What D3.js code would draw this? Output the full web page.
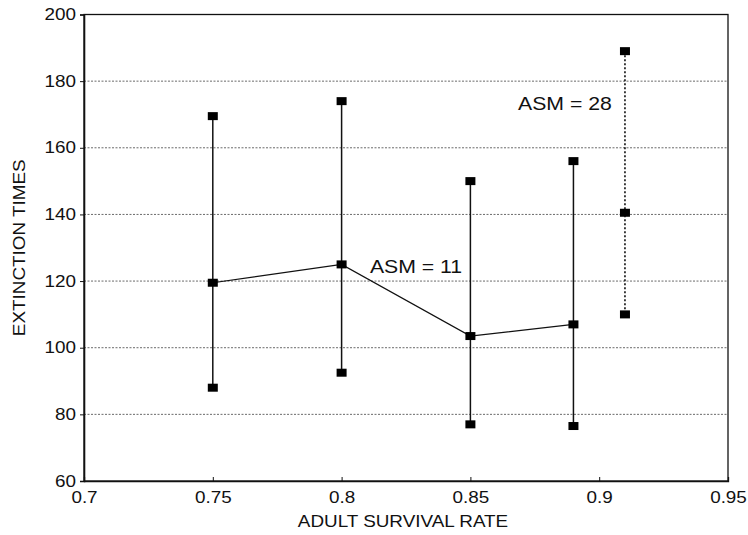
<!DOCTYPE html>
<html><head><meta charset="utf-8">
<script src="https://cdn.jsdelivr.net/npm/d3@7"></script>
<style>
body{margin:0;background:#fff;}
text{font-family:"Liberation Sans",Arial,Helvetica,sans-serif;fill:#111;}
</style></head>
<body>
<svg id="chart" width="748" height="535"></svg>
<script>
// Data
const xTicks = [0.7, 0.75, 0.8, 0.85, 0.9, 0.95];
const yTicks = [60, 80, 100, 120, 140, 160, 180, 200];
const asm11X = [0.75, 0.8, 0.85, 0.89];
const asm11Mean = [119.5, 125, 103.5, 107];
const asm11High = [169.5, 174, 150, 156];
const asm11Low = [88, 92.5, 77, 76.5];
const asm28X = [0.91];
const asm28Mean = [140.5];
const asm28High = [189];
const asm28Low = [110];
const xLabel = "ADULT SURVIVAL RATE";
const yLabel = "EXTINCTION TIMES";
const labels = [{text:"ASM = 11", x:0.811, y:122.5},{text:"ASM = 28", x:0.8685, y:171.3}];

const L=84, R=728, T=14.5, B=481, SX=1.18;
const svg=d3.select("#chart");
const x=d3.scaleLinear().domain([0.7,0.95]).range([L,R]);
const y=d3.scaleLinear().domain([60,200]).range([B,T]);

// grid
svg.append("g").selectAll("line").data(yTicks.filter(d=>d>60&&d<200)).join("line")
  .attr("x1",L).attr("x2",R).attr("y1",d=>y(d)).attr("y2",d=>y(d))
  .attr("stroke","#444").attr("stroke-width",0.8).attr("stroke-dasharray","2,1.5");

// frame
svg.append("rect").attr("x",L).attr("y",T).attr("width",R-L).attr("height",B-T)
  .attr("fill","none").attr("stroke","#111").attr("stroke-width",1.3);

// y axis
const ya=svg.append("g").attr("transform",`translate(${L},0)`)
  .call(d3.axisLeft(y).tickValues(yTicks).tickSize(4).tickPadding(8).tickFormat(d3.format("d")));
ya.select(".domain").attr("stroke","#111").attr("stroke-width",1.6);
ya.selectAll(".tick line").attr("stroke","#111");
ya.selectAll(".tick text").attr("font-size",16).attr("fill","#111")
  .attr("font-family",'"Liberation Sans",Arial,sans-serif')
  .attr("x",-8/SX).attr("transform",`scale(${SX},1)`);

// x axis
const xa=svg.append("g").attr("transform",`translate(0,${B})`)
  .call(d3.axisBottom(x).tickValues(xTicks).tickSize(-4).tickPadding(9).tickFormat(d=>String(d)));
xa.select(".domain").attr("stroke","#111").attr("stroke-width",1.3);
xa.selectAll(".tick line").attr("stroke","#111");
xa.selectAll(".tick text").attr("font-size",16).attr("fill","#111")
  .attr("font-family",'"Liberation Sans",Arial,sans-serif')
  .attr("y",22).attr("dy",0).attr("transform",`scale(${SX},1)`);

// axis titles
svg.append("text").attr("transform",`translate(${(L+R)/2-3},527) scale(${SX},1)`)
  .attr("text-anchor","middle").attr("font-size",16).text(xLabel);
svg.append("text").attr("transform",`translate(25,${(T+B)/2}) rotate(-90) scale(${SX},1)`)
  .attr("text-anchor","middle").attr("font-size",16).text(yLabel);

// series
const s11 = asm11X.map((v,i)=>({x:v,m:asm11Mean[i],h:asm11High[i],l:asm11Low[i]}));
const s28 = asm28X.map((v,i)=>({x:v,m:asm28Mean[i],h:asm28High[i],l:asm28Low[i]}));
const g=svg.append("g");
g.selectAll("line.v11").data(s11).join("line").attr("class","v11")
  .attr("x1",d=>x(d.x)).attr("x2",d=>x(d.x)).attr("y1",d=>y(d.h)).attr("y2",d=>y(d.l))
  .attr("stroke","#111").attr("stroke-width",1.5);
g.selectAll("line.v28").data(s28).join("line").attr("class","v28")
  .attr("x1",d=>x(d.x)).attr("x2",d=>x(d.x)).attr("y1",d=>y(d.h)).attr("y2",d=>y(d.l))
  .attr("stroke","#111").attr("stroke-width",1.6).attr("stroke-dasharray","2,2");
g.append("path").datum(s11).attr("fill","none").attr("stroke","#111").attr("stroke-width",1.2)
  .attr("d",d3.line().x(d=>x(d.x)).y(d=>y(d.m)));
const pts=[];
s11.concat(s28).forEach(d=>{pts.push({x:d.x,v:d.h});pts.push({x:d.x,v:d.m});pts.push({x:d.x,v:d.l});});
g.selectAll("rect.mk").data(pts).join("rect").attr("class","mk")
  .attr("x",d=>x(d.x)-5).attr("y",d=>y(d.v)-4).attr("width",10).attr("height",8).attr("fill","#000");

// annotations
svg.selectAll("text.ann").data(labels).join("text").attr("class","ann")
  .attr("transform",d=>`translate(${x(d.x)},${y(d.y)}) scale(${SX},1)`)
  .attr("font-size",18).text(d=>d.text);
</script>
</body></html>
